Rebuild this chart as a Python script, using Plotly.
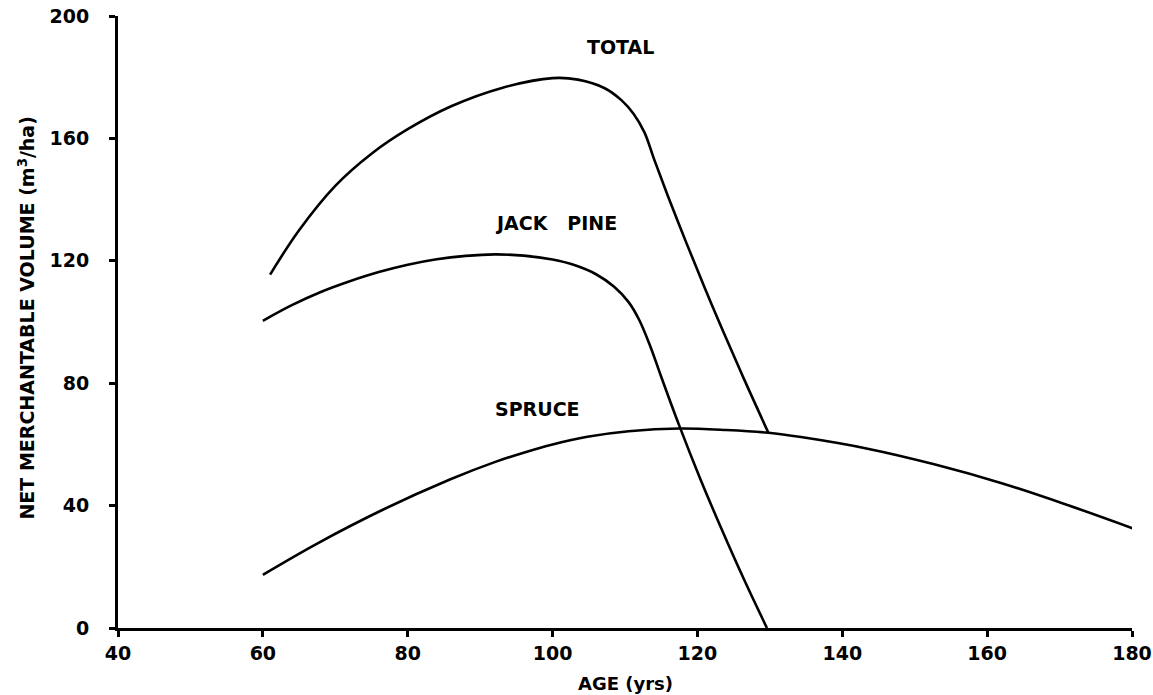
import plotly.graph_objects as go

# Data (age in years, net merchantable volume m3/ha)
total_age = [61.0, 65.0, 70.0, 75.0, 80.0, 86.0, 93.0, 100.0, 103.5, 107.2, 109.5, 111.2, 112.7, 114.0, 116.0, 118.5, 121.0, 123.5, 126.5, 129.8]
total_vol = [115.5, 130.0, 144.5, 155.0, 163.0, 170.5, 176.5, 179.7, 179.2, 176.4, 172.5, 168.0, 161.9, 153.3, 140.7, 125.7, 111.2, 97.2, 81.0, 63.8]

jack_age = [60.0, 64.0, 68.0, 72.0, 76.0, 80.0, 84.0, 88.0, 92.0, 96.0, 100.0, 103.0, 106.0, 108.5, 110.5, 112.0, 113.5, 115.0, 117.4, 120.3, 123.3, 126.5, 129.6]
jack_vol = [100.4, 105.5, 109.8, 113.3, 116.3, 118.7, 120.5, 121.6, 122.1, 121.7, 120.4, 118.6, 115.6, 111.5, 106.5, 100.5, 92.0, 82.1, 66.7, 49.3, 32.5, 15.5, 0.0]

spruce_age = [60.0, 67.5, 76.7, 85.9, 92.0, 96.0, 100.0, 104.8, 110.5, 117.5, 124.0, 129.8, 134.3, 143.5, 152.7, 161.9, 171.2, 180.2]
spruce_vol = [17.4, 27.6, 38.8, 48.6, 54.2, 57.3, 60.0, 62.5, 64.3, 65.2, 64.7, 63.8, 62.4, 58.6, 53.5, 47.4, 40.1, 32.5]

x_ticks = [40, 60, 80, 100, 120, 140, 160, 180]
y_ticks = [0, 40, 80, 120, 160, 200]

labels = ["TOTAL", "JACK\u00a0\u00a0\u00a0PINE", "SPRUCE"]
label_age = [109.4, 100.5, 97.9]
label_vol = [189.8, 132.5, 71.6]

FONT = "DejaVu Sans"

fig = go.Figure()
line_style = dict(color="black", width=2.6, shape="spline", smoothing=1.0)
for xs, ys in [(total_age, total_vol), (jack_age, jack_vol), (spruce_age, spruce_vol)]:
    fig.add_trace(go.Scatter(x=xs, y=ys, mode="lines", line=line_style,
                             showlegend=False, hoverinfo="skip", cliponaxis=False))

for t, xa, ya in zip(labels, label_age, label_vol):
    fig.add_annotation(x=xa, y=ya, text=f"<b>{t}</b>", showarrow=False,
                       font=dict(family=FONT, size=19, color="black"),
                       xanchor="center", yanchor="middle")

fig.add_annotation(xref="paper", yref="paper", x=0.5, y=-0.0907,
                   text="<b>AGE (yrs)</b>", showarrow=False,
                   font=dict(family=FONT, size=18, color="black"),
                   xanchor="center", yanchor="middle")
fig.add_annotation(xref="paper", yref="paper", x=-0.0907, y=0.5057,
                   text="<b>NET MERCHANTABLE VOLUME (m<sup>3</sup>/ha)</b>", showarrow=False,
                   textangle=-90,
                   font=dict(family=FONT, size=19, color="black"),
                   xanchor="center", yanchor="middle")

fig.update_layout(
    width=1153, height=695,
    margin=dict(l=118, r=21, t=16, b=67, autoexpand=False),
    paper_bgcolor="white", plot_bgcolor="white",
    font=dict(family=FONT, color="black"),
    xaxis=dict(range=[40, 180], tickvals=x_ticks, ticktext=[f"<b>{v}</b>" for v in x_ticks],
               automargin=False,
               showgrid=False, zeroline=False, showline=True, linecolor="black", linewidth=3,
               ticks="outside", ticklen=6, tickwidth=2.5, tickcolor="black",
               tickfont=dict(family=FONT, size=19, color="black")),
    yaxis=dict(range=[0, 200], tickvals=y_ticks, ticktext=[f"<b>{v}</b>" for v in y_ticks],
               automargin=False,
               showgrid=False, zeroline=False, showline=True, linecolor="black", linewidth=3,
               ticks="outside", ticklen=6, tickwidth=2.5, tickcolor="black",
               ticklabelstandoff=16,
               tickfont=dict(family=FONT, size=19, color="black")),
)

fig.write_html("out.html")
